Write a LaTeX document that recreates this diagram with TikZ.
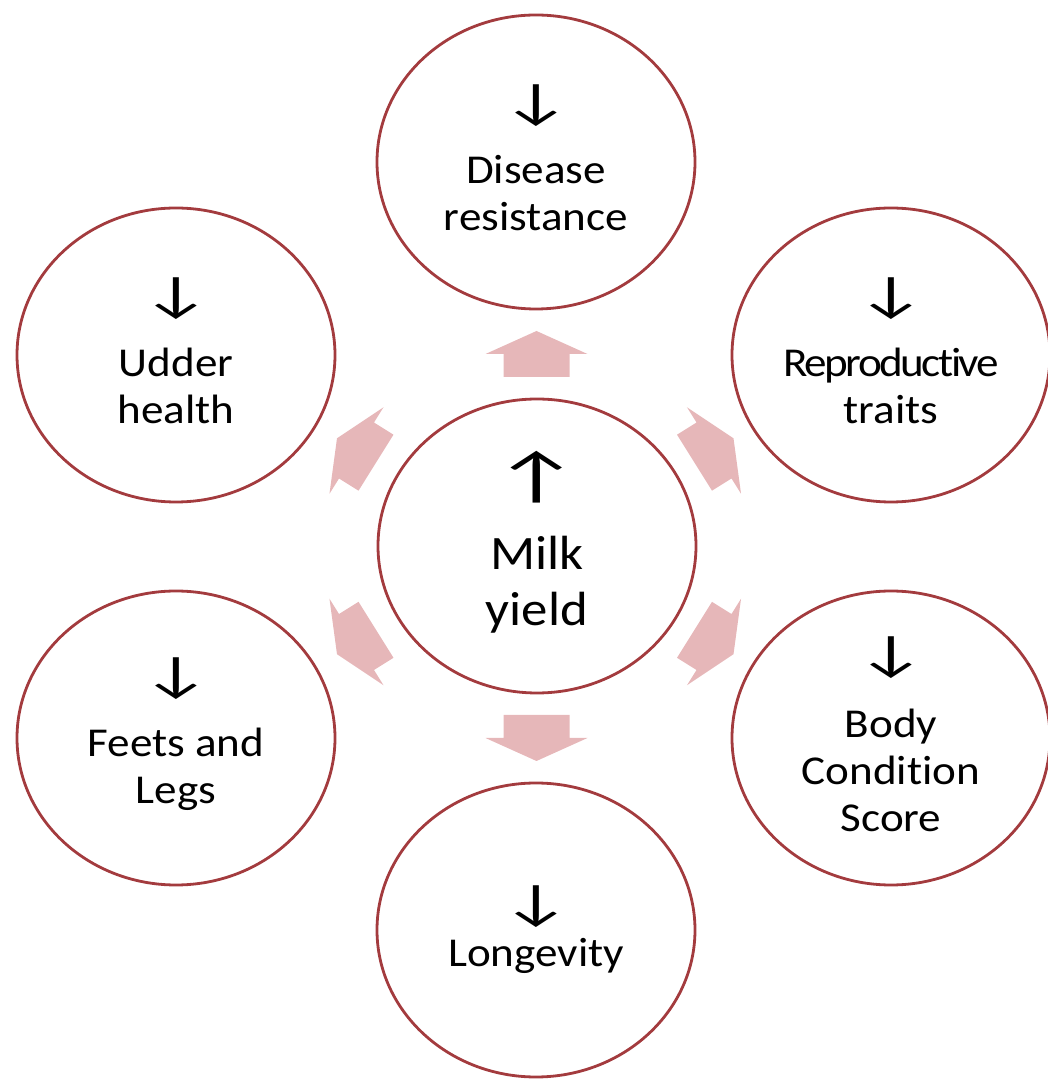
\documentclass[tikz,border=0pt]{standalone}
\usepackage{graphicx}
\usepackage{fontspec}
\setmainfont{Carlito}[FakeStretch=1.1, Ligatures=NoCommon]
\usetikzlibrary{shapes.geometric,calc}

\definecolor{ringred}{RGB}{163,59,62}
\definecolor{arrowpink}{RGB}{230,183,185}

\newcommand{\dnarr}{\scalebox{1.4}[1]{\fontsize{50}{50}\selectfont ↓}}
\newcommand{\uparr}{\scalebox{1.4}[1]{\fontsize{62}{62}\selectfont ↑}}

\tikzset{
    trait/.style={ellipse, draw=ringred, line width=2.8pt,
        minimum width=318pt, minimum height=294pt, inner sep=0pt},
    traittext/.style={align=center, inner sep=0pt, yshift=4pt,
        font=\fontsize{41}{47}\selectfont},
}

\begin{document}
\begin{tikzpicture}[x=1pt, y=1pt]
    \useasboundingbox (0,0) rectangle (1048,1080);

    % Circles
    \node[trait] (milk) at (537,534) {};
    \node[trait] (disease) at (536,918) {};
    \node[trait] (udder) at (176,725) {};
    \node[trait] (repro) at (891,725) {};
    \node[trait] (feet) at (176,342) {};
    \node[trait] (body) at (891,342) {};
    \node[trait] (longevity) at (536,150) {};

    % Texts in the circles
    \node[traittext, font=\fontsize{48}{56}\selectfont] (milk-t) at (milk) {\uparr\\[17pt]Milk\\yield};
    \node[traittext] (disease-t) at (disease) {\dnarr\\[18pt]Disease\\resistance};
    \node[traittext] (udder-t) at (udder) {\dnarr\\[18pt]Udder\\health};
    \node[traittext] (repro-t) at (repro) {\dnarr\\[18pt]{\addfontfeatures{LetterSpace=-6}Reproductive}\\traits};
    \node[traittext] (feet-t) at (feet) {\dnarr\\[18pt]Feets and\\Legs};
    \node[traittext] (body-t) at (body) {\dnarr\\[20pt]Body\\Condition\\Score};
    \node[traittext, yshift=-4pt] (longevity-t) at (longevity) {\dnarr\\Longevity};

    % Block arrows between the middle and the outer circles
    \foreach \target/\ang in {disease/90, repro/32, body/-32, longevity/-90, feet/-148, udder/148} {
        \fill[arrowpink, shift={($(milk)!0.5!(\target)$)}, rotate=\ang]
            (-23,-33) -- (0,-33) -- (0,-51) -- (23,0) -- (0,51) -- (0,33) -- (-23,33) -- cycle;
    }
\end{tikzpicture}
\end{document}
